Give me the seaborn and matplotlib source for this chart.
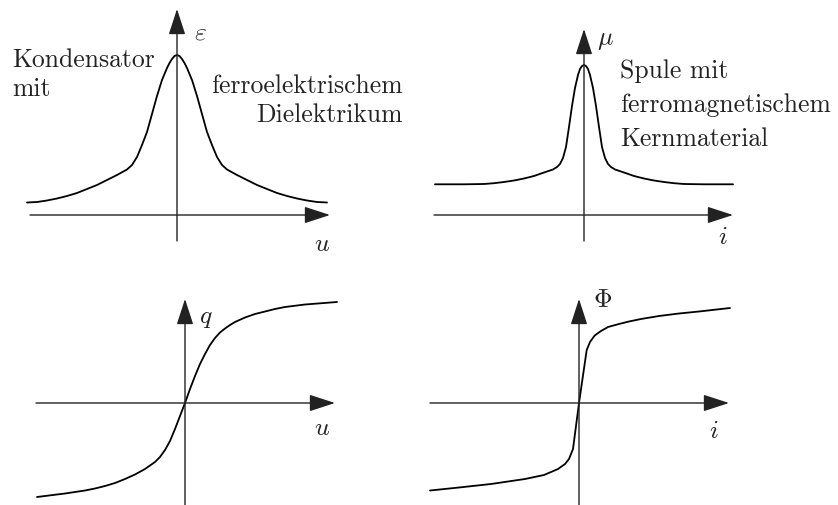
import pandas as pd
import matplotlib.pyplot as plt
import seaborn as sns

sns.set_theme(style="white")
plt.rcParams["mathtext.fontset"] = "cm"
plt.rcParams["font.family"] = ["cmr10", "DejaVu Serif"]
plt.rcParams["axes.formatter.use_mathtext"] = True

W, H = 838, 506

# epsilon(u): capacitor with ferroelectric dielectric
eps_u = [-1.50, -1.40, -1.30, -1.20, -1.10, -1.00, -0.90, -0.80, -0.70, -0.60,
         -0.50, -0.45, -0.40, -0.35, -0.30, -0.25, -0.20, -0.15, -0.10, -0.075,
         -0.05, -0.025, 0.00, 0.025, 0.05, 0.075, 0.10, 0.15, 0.20, 0.25,
         0.30, 0.35, 0.40, 0.45, 0.50, 0.60, 0.70, 0.80, 0.90, 1.00,
         1.10, 1.20, 1.30, 1.40, 1.50]
eps_val = [0.125, 0.13, 0.145, 0.165, 0.19, 0.22, 0.26, 0.30, 0.35, 0.40,
           0.455, 0.50, 0.58, 0.70, 0.83, 1.01, 1.19, 1.35, 1.47, 1.52,
           1.56, 1.59, 1.60, 1.59, 1.56, 1.52, 1.47, 1.35, 1.19, 1.01,
           0.83, 0.70, 0.58, 0.50, 0.455, 0.40, 0.35, 0.30, 0.26, 0.22,
           0.19, 0.165, 0.145, 0.13, 0.125]

# mu(i): coil with ferromagnetic core
mu_i = [-1.49, -1.20, -1.00, -0.90, -0.80, -0.70, -0.60, -0.50, -0.40, -0.31,
        -0.27, -0.24, -0.21, -0.18, -0.15, -0.12, -0.09, -0.06, -0.04, -0.02,
        0.00, 0.02, 0.04, 0.06, 0.09, 0.12, 0.15, 0.18, 0.21, 0.24,
        0.27, 0.31, 0.40, 0.50, 0.60, 0.70, 0.80, 0.90, 1.00, 1.20, 1.49]
mu_val = [0.307, 0.307, 0.31, 0.318, 0.33, 0.345, 0.365, 0.39, 0.425, 0.455,
          0.48, 0.51, 0.57, 0.68, 0.88, 1.09, 1.27, 1.40, 1.46, 1.49,
          1.50, 1.49, 1.46, 1.40, 1.27, 1.09, 0.88, 0.68, 0.57, 0.51,
          0.48, 0.455, 0.425, 0.39, 0.365, 0.345, 0.33, 0.318, 0.31, 0.307, 0.307]

# q(u)
q_u = [-1.48, -1.20, -1.00, -0.90, -0.80, -0.70, -0.60, -0.50, -0.40, -0.30,
       -0.25, -0.20, -0.15, -0.10, -0.05, 0.00, 0.05, 0.10, 0.15, 0.20,
       0.25, 0.30, 0.35, 0.40, 0.45, 0.50, 0.60, 0.70, 0.80, 0.90,
       1.00, 1.20, 1.52]
q_val = [-0.94, -0.905, -0.875, -0.855, -0.83, -0.80, -0.76, -0.715, -0.66, -0.59,
         -0.54, -0.47, -0.38, -0.26, -0.13, 0.00, 0.14, 0.27, 0.39, 0.49,
         0.58, 0.65, 0.705, 0.745, 0.78, 0.81, 0.855, 0.89, 0.915, 0.94,
         0.96, 0.985, 1.01]

# Phi(i)
phi_i = [-1.49, -1.20, -0.88, -0.54, -0.35, -0.21, -0.14, -0.10, -0.06, 0.00,
         0.077, 0.11, 0.157, 0.22, 0.29, 0.40, 0.50, 0.62, 0.80, 1.00, 1.20, 1.51]
phi_val = [-0.875, -0.845, -0.81, -0.76, -0.72, -0.66, -0.61, -0.56, -0.46, 0.00,
           0.53, 0.61, 0.675, 0.72, 0.76, 0.79, 0.815, 0.84, 0.87, 0.895, 0.915, 0.95]

panels = [
    # origin px, box px, x-axis extent, y-axis extent, curve
    dict(origin=(177, 216), box=(0, 0, 419, 253), xax=(-1.47, 1.53), yax=(-0.26, 2.06),
         x=eps_u, y=eps_val),
    dict(origin=(584, 216), box=(419, 0, 838, 253), xax=(-1.50, 1.49), yax=(-0.26, 1.86),
         x=mu_i, y=mu_val),
    dict(origin=(185, 404), box=(0, 253, 419, 506), xax=(-1.49, 1.50), yax=(-1.03, 1.04),
         x=q_u, y=q_val),
    dict(origin=(579, 404), box=(419, 253, 838, 506), xax=(-1.49, 1.50), yax=(-1.03, 1.04),
         x=phi_i, y=phi_val),
]

fig = plt.figure(figsize=(W / 100, H / 100), dpi=100)

arrow = dict(arrowstyle="-|>,head_length=1.6,head_width=0.52", mutation_scale=10,
             lw=1.0, color="#222222", shrinkA=0, shrinkB=0)

for p in panels:
    x0, y0, x1, y1 = p["box"]
    ox, oy = p["origin"]
    ax = fig.add_axes([x0 / W, 1 - y1 / H, (x1 - x0) / W, (y1 - y0) / H])
    ax.set_xlim((x0 - ox) / 100, (x1 - ox) / 100)
    ax.set_ylim((oy - y1) / 100, (oy - y0) / 100)
    ax.set_axis_off()
    ax.annotate("", xy=(p["xax"][1], 0), xytext=(p["xax"][0], 0),
                arrowprops=arrow, annotation_clip=False)
    ax.annotate("", xy=(0, p["yax"][1]), xytext=(0, p["yax"][0]),
                arrowprops=arrow, annotation_clip=False)
    df = pd.DataFrame({"x": p["x"], "y": p["y"]})
    sns.lineplot(data=df, x="x", y="y", ax=ax, color="black", lw=1.3,
                 sort=False, estimator=None)


def px_text(x, y, s, **kw):
    fig.text(x / W, 1 - y / H, s, color="#222222", **kw)


fs = 18.5
# descriptive labels
px_text(12, 67, "Kondensator", fontsize=fs, va="baseline", ha="left")
px_text(12, 96, "mit", fontsize=fs, va="baseline", ha="left")
px_text(403, 93, "ferroelektrischem", fontsize=fs, va="baseline", ha="right")
px_text(403, 122, "Dielektrikum", fontsize=fs, va="baseline", ha="right")
px_text(620, 78, "Spule mit", fontsize=fs, va="baseline", ha="left")
px_text(620, 112, "ferromagnetischem", fontsize=fs, va="baseline", ha="left")
px_text(620, 146, "Kernmaterial", fontsize=fs, va="baseline", ha="left")

# axis symbols
for x, y, s in [(200, 33, r"$\varepsilon$"), (322, 244, r"$u$"),
                (605, 40, r"$\mu$"), (723, 237, r"$i$"),
                (206, 318, r"$q$"), (322, 428, r"$u$"),
                (603, 300, r"$\Phi$"), (714, 431, r"$i$")]:
    px_text(x, y, s, fontsize=fs, va="center", ha="center")

fig.savefig("out.png", dpi=100)
